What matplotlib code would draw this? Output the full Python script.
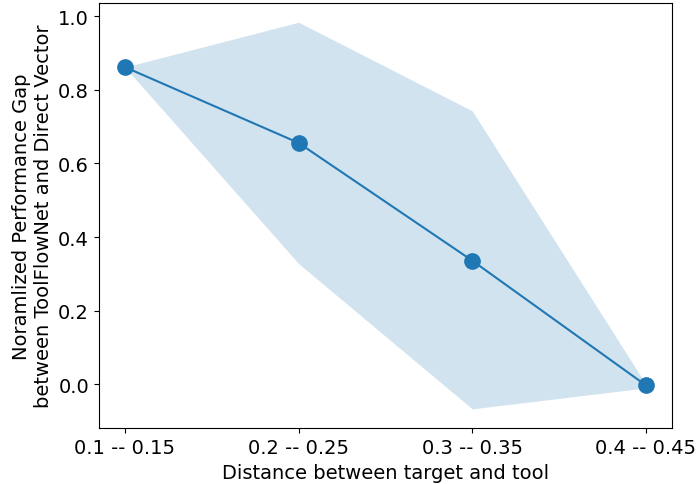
import matplotlib
matplotlib.use("Agg")
import matplotlib.pyplot as plt

categories = ["0.1 -- 0.15", "0.2 -- 0.25", "0.3 -- 0.35", "0.4 -- 0.45"]
mean_gap = [0.862, 0.656, 0.336, -0.003]
upper = [0.862, 0.984, 0.743, 0.0]
lower = [0.862, 0.328, -0.067, -0.01]

fig = plt.figure(figsize=(6.96, 4.85), dpi=100)
ax = fig.add_axes([0.142, 0.115, 0.8235, 0.877])
x = list(range(len(categories)))
ax.fill_between(x, lower, upper, color="C0", alpha=0.2, linewidth=0)
ax.plot(x, mean_gap, marker="o", markersize=11, color="C0")
ax.set_xticks(x)
ax.set_xticklabels(categories, fontsize=14)
ax.tick_params(axis="y", labelsize=14)
ax.set_xlabel("Distance between target and tool", fontsize=14)
ax.set_ylabel("Noramlized Performance Gap\nbetween ToolFlowNet and Direct Vector", fontsize=14)
fig.savefig("out.png", dpi=100)
